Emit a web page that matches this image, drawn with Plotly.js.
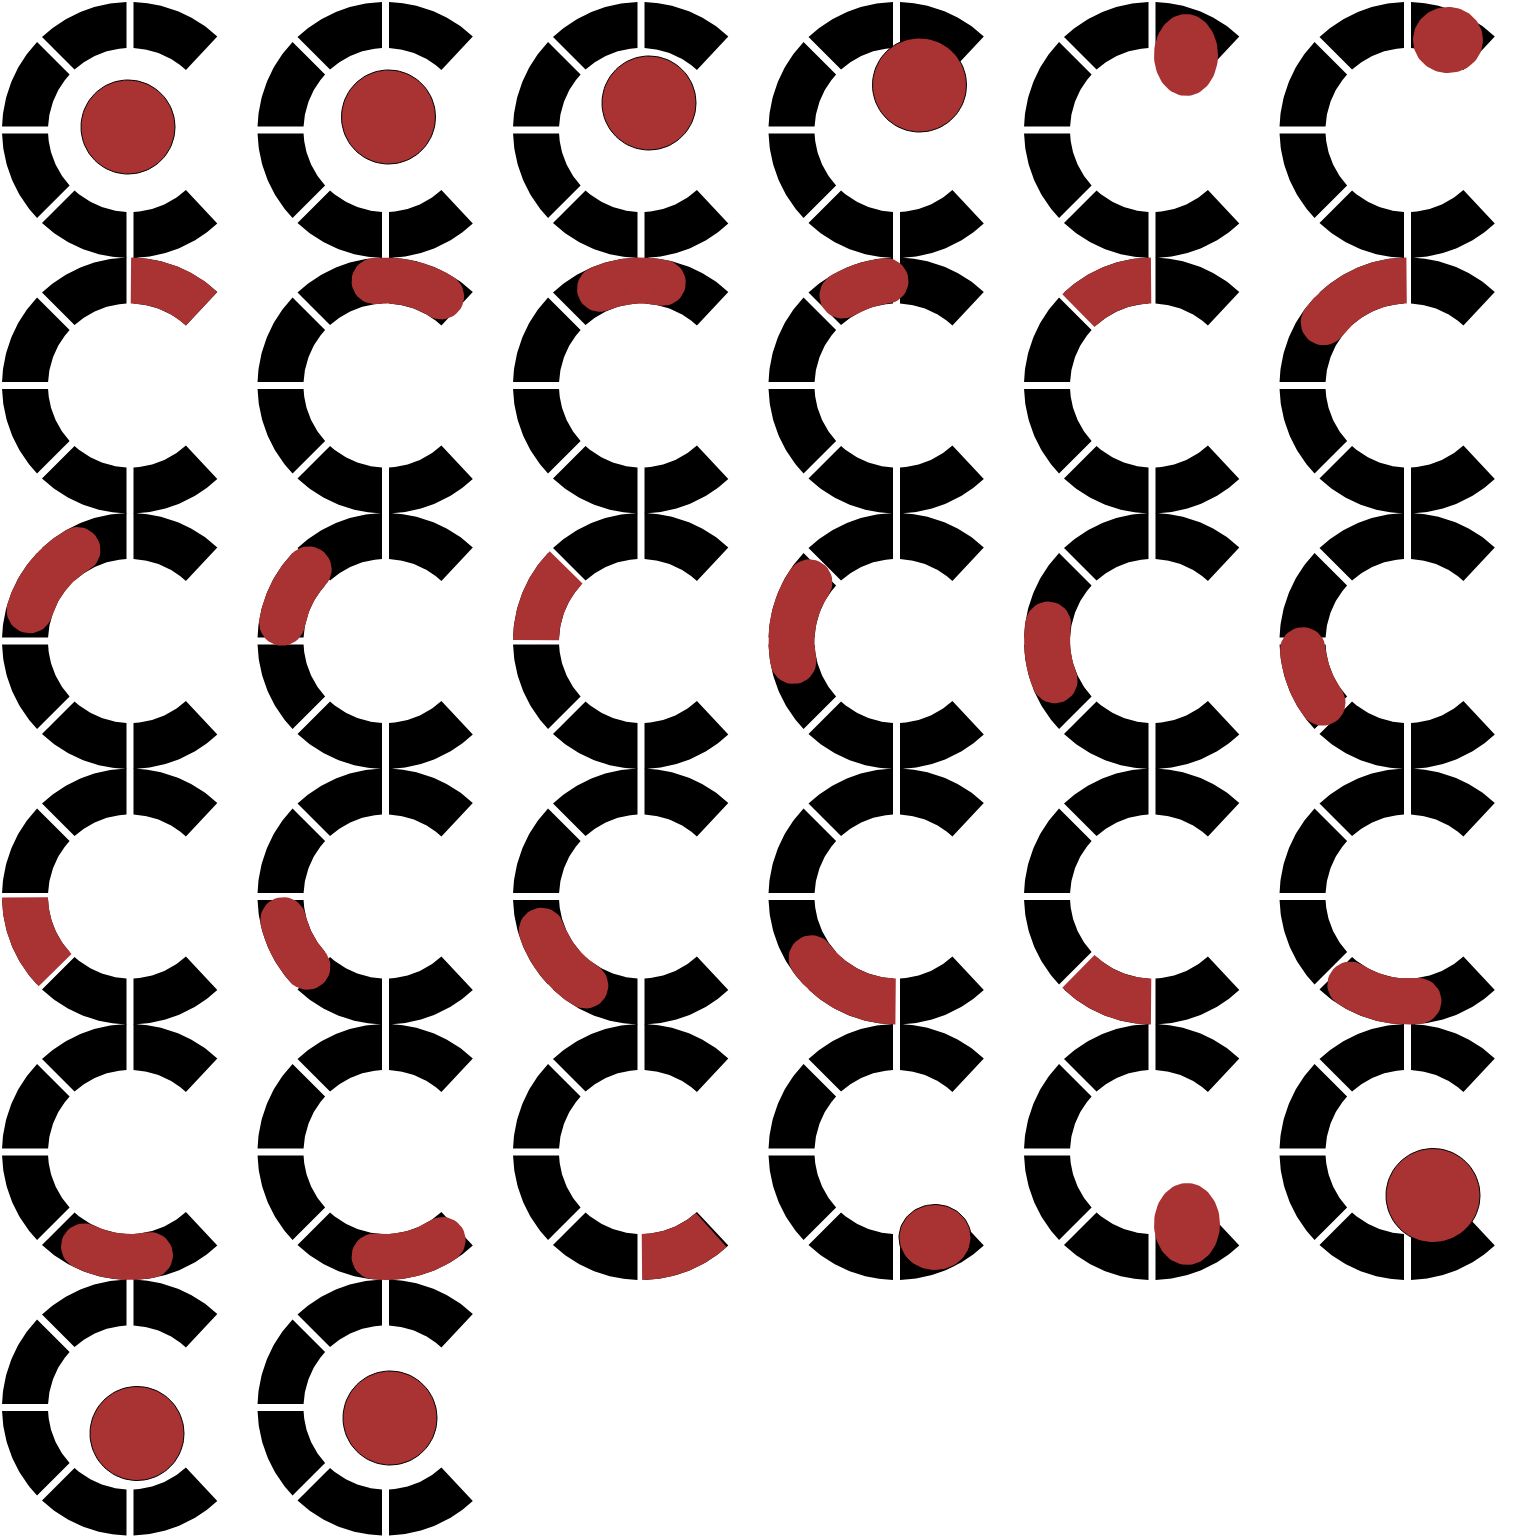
<!DOCTYPE html>
<html>
<head>
<meta charset="utf-8">
<script src="https://cdn.plot.ly/plotly-3.0.1.min.js"></script>
<style>body{margin:0;background:#fff}</style>
</head>
<body>
<div id="chart" style="width:1536px;height:1536px"></div>
<script>
// grid of frames
var nCols = 6;
var pitch = 255.5;
var origin = 130;
var outerR = 128, innerR = 82, gapHalf = 3.5;
// segment boundaries (degrees, counter-clockwise, opening on the right)
var segEdges = [47, 90, 135, 180, 225, 270, 313];

// blob per frame: kind 'e' = ellipse (dx, dy, rx, ry relative to ring centre), 'a' = arc band (a0, a1, rc, h, cap0, cap1)
var blobKind = ['e','e','e','e','e','e',
  'a','a','a','a','a','a',
  'a','a','a','a','a','a',
  'a','a','a','a','a','a',
  'a','a','a','e','e','e',
  'e','e'];
var blobA = [-2, 3, 8, 23, 34, 40.5,   47, 58, 78, 96, 90.5, 90.5,   120, 137, 135.5, 146, 171, 185,   180.5, 193, 199, 216, 225.5, 237,   244, 264, 270.5, 38.5, 35, 25.5,  7, 4.5];
var blobB = [-3, -13, -27, -45, -75, -90,  89.5, 96, 113, 121, 134.5, 143,  163, 170, 179.5, 191, 202, 216,  224.5, 222, 238, 269.5, 269.5, 276,  281, 303, 312, 85.5, 72, 43.5,  26, 10.5];
var blobC = [47, 47, 47, 47, 32, 35,   105, 105, 105, 105, 105, 105,  105, 105, 105, 105, 105, 105,  105, 105, 105, 105, 105, 105,  105, 105, 105, 36, 33, 47,  47, 47];
var blobD = [47, 47, 47, 47, 41, 33,   23, 23, 23, 23, 23, 23,  23, 23, 23, 23, 23, 23,  23, 23, 23, 23, 23, 23,  23, 23, 23, 33, 41, 47,  47, 47];
var cap0 = [0,0,0,0,0,0,  0,1,1,1,0,0,  1,1,0,1,1,1,  0,1,1,1,0,1,  1,1,0,0,0,0,  0,0];
var cap1 = [0,0,0,0,0,0,  0,1,1,1,0,1,  1,1,0,1,1,1,  0,1,1,0,0,1,  1,1,0,0,0,0,  0,0];
var outlined = [1,1,1,1,0,0,  0,0,0,0,0,0,  0,0,0,0,0,0,  0,0,0,0,0,0,  0,0,0,1,0,1,  1,1];

var rad = function(d){ return d * Math.PI / 180; };

function ringCentre(i){
  return [origin + pitch * (i % nCols), origin + pitch * Math.floor(i / nCols)];
}

var ringX = [], ringY = [];
function pushSegments(cx, cy){
  for (var s = 0; s < segEdges.length - 1; s++){
    var b0 = segEdges[s], b1 = segEdges[s + 1];
    var g0 = s === 0 ? 0 : gapHalf, g1 = s === segEdges.length - 2 ? 0 : gapHalf;
    var oa0 = b0 + Math.asin(g0 / outerR) * 180 / Math.PI, oa1 = b1 - Math.asin(g1 / outerR) * 180 / Math.PI;
    var ia0 = b0 + Math.asin(g0 / innerR) * 180 / Math.PI, ia1 = b1 - Math.asin(g1 / innerR) * 180 / Math.PI;
    for (var k = 0; k <= 40; k++){
      var a = rad(oa0 + (oa1 - oa0) * k / 40);
      ringX.push(cx + outerR * Math.cos(a)); ringY.push(cy - outerR * Math.sin(a));
    }
    for (var k = 40; k >= 0; k--){
      var a = rad(ia0 + (ia1 - ia0) * k / 40);
      ringX.push(cx + innerR * Math.cos(a)); ringY.push(cy - innerR * Math.sin(a));
    }
    ringX.push(ringX[ringX.length - 82]); ringY.push(ringY[ringY.length - 82]);
    ringX.push(null); ringY.push(null);
  }
}

function blobPath(i, cx, cy){
  var xs = [], ys = [];
  if (blobKind[i] === 'e'){
    var ex = cx + blobA[i], ey = cy + blobB[i];
    for (var k = 0; k <= 80; k++){
      var t = 2 * Math.PI * k / 80;
      xs.push(ex + blobC[i] * Math.cos(t)); ys.push(ey - blobD[i] * Math.sin(t));
    }
    return [xs, ys];
  }
  var a0 = blobA[i], a1 = blobB[i], rc = blobC[i], h = blobD[i];
  function pt(r, ad){ var a = rad(ad); xs.push(cx + r * Math.cos(a)); ys.push(cy - r * Math.sin(a)); }
  for (var k = 0; k <= 40; k++) pt(rc + h, a0 + (a1 - a0) * k / 40);
  if (cap1[i]){
    var a = rad(a1), px = rc * Math.cos(a), py = rc * Math.sin(a);
    for (var k = 1; k < 20; k++){
      var f = Math.PI * k / 20;
      var mx = px + h * (Math.cos(f) * Math.cos(a) - Math.sin(f) * Math.sin(a));
      var my = py + h * (Math.cos(f) * Math.sin(a) + Math.sin(f) * Math.cos(a));
      xs.push(cx + mx); ys.push(cy - my);
    }
  }
  for (var k = 40; k >= 0; k--) pt(rc - h, a0 + (a1 - a0) * k / 40);
  if (cap0[i]){
    var a = rad(a0), px = rc * Math.cos(a), py = rc * Math.sin(a);
    for (var k = 1; k < 20; k++){
      var f = Math.PI * k / 20;
      var mx = px - h * (Math.cos(f) * Math.cos(a) - Math.sin(f) * Math.sin(a));
      var my = py - h * (Math.cos(f) * Math.sin(a) + Math.sin(f) * Math.cos(a));
      xs.push(cx + mx); ys.push(cy - my);
    }
  }
  xs.push(xs[0]); ys.push(ys[0]);
  return [xs, ys];
}

var data = [];
for (var i = 0; i < blobKind.length; i++){
  var c = ringCentre(i);
  pushSegments(c[0], c[1]);
}
data.push({x: ringX, y: ringY, type: 'scatter', mode: 'lines', fill: 'toself',
  fillcolor: '#000', line: {width: 0, color: '#000'}, hoverinfo: 'skip'});

for (var i = 0; i < blobKind.length; i++){
  var c = ringCentre(i);
  var p = blobPath(i, c[0], c[1]);
  data.push({x: p[0], y: p[1], type: 'scatter', mode: 'lines', fill: 'toself',
    fillcolor: '#a93232',
    line: {width: outlined[i] ? 1 : 0, color: outlined[i] ? '#000' : '#a93232'},
    hoverinfo: 'skip'});
}

var layout = {
  width: 1536, height: 1536,
  margin: {l: 0, r: 0, t: 0, b: 0},
  showlegend: false,
  paper_bgcolor: '#fff', plot_bgcolor: '#fff',
  xaxis: {range: [0, 1536], visible: false, fixedrange: true},
  yaxis: {range: [1536, 0], visible: false, fixedrange: true}
};
Plotly.newPlot('chart', data, layout, {displayModeBar: false, staticPlot: true});
</script>
</body>
</html>
